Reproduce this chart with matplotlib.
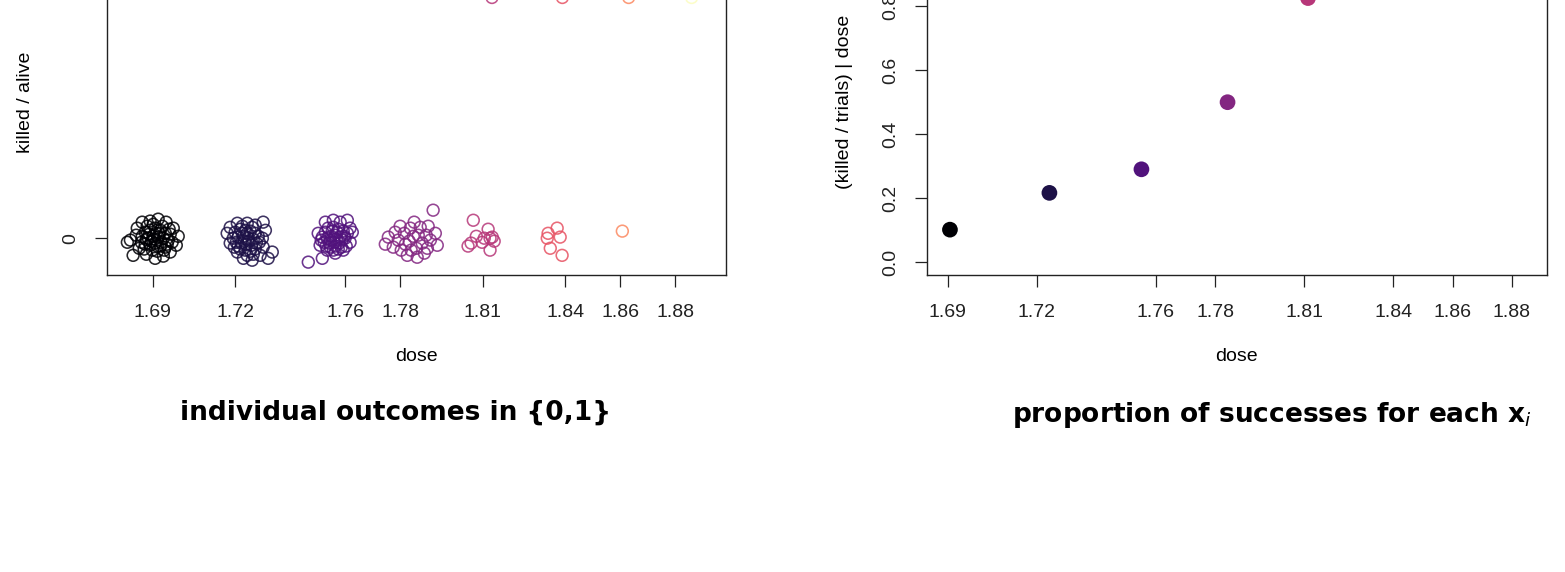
import numpy as np
import matplotlib
matplotlib.use("Agg")
import matplotlib.pyplot as plt

plt.rcParams["font.family"] = ["Liberation Sans", "DejaVu Sans"]

# beetle mortality data
dose = [1.6907, 1.7242, 1.7552, 1.7842, 1.8113, 1.8369, 1.8610, 1.8839]
n_trials = [59, 60, 62, 56, 63, 59, 62, 60]
n_killed = [6, 13, 18, 28, 52, 53, 61, 60]
dose_ticks = [1.69, 1.72, 1.76, 1.78, 1.81, 1.84, 1.86, 1.88]
dose_labels = ["1.69", "1.72", "1.76", "1.78", "1.81", "1.84", "1.86", "1.88"]
colors = ["#000004", "#1D1147", "#51127C", "#832681",
          "#B73779", "#E75263", "#FC8961", "#FCFDBF"]

# jitter for the "alive" (0) outcomes
# x in 1e-3 dose units, y in 1e-2 outcome units
jx0 = [
    [-8.9, -7.9, -6.4, -4.6, -1.7, 1.2, 4.1, 6.7, 8.5, 7.8, 5.6, 3.1, 0.1, -3.1, -5.7, -10.0,
     -3.5, -1.7, 0.1, 2.0, 3.8, -2.4, -0.6, 1.2, 3.1, 4.9, -3.5, -1.7, 0.1, 2.0, 3.8, -0.9,
     0.9, -4.6, 5.6, -2.8, 2.7, 0.5, -1.3, 2.3, -3.9, 4.5, -0.2, 1.6, -2.0, 3.4, -4.9, 6.3,
     0.9, -3.1, -0.6, 5.2, -6.8],
    [-7.2, -6.1, -3.5, 0.1, 3.0, 5.9, 6.7, 5.6, 5.9, 9.2, 7.7, 4.8, 1.9, -1.3, -3.5, -6.1,
     -4.3, -2.4, -0.6, 1.2, 3.0, -3.2, -1.3, 0.5, 2.3, -3.9, -2.1, -0.3, 1.6, 3.4, -2.4,
     -0.6, 1.2, 3.0, -5.0, 4.1, -1.7, 1.9, 0.1, -1.0, 0.8, -3.2, 2.3, 0.1, 4.5, -4.6, -1.7],
    [-8.7, -3.6, -5.1, -2.5, 0.4, 2.9, 5.5, 6.5, 7.3, 6.5, 4.0, 1.1, -1.8, -4.4, 5.1, 2.2,
     -3.6, -2.5, -1.5, 0.4, 2.2, 4.0, -1.8, -0.4, 1.1, 2.9, 4.7, -2.9, -1.1, 0.7, 2.5, 4.4,
     -0.7, 1.1, -2.2, 3.3, 0.0, 1.5, -0.7, -4.0, 5.5, 1.8, 3.6, 0.4],
    [-8.6, -6.1, -5.0, -6.8, -3.9, -2.4, -2.8, -0.6, 0.5, -1.0, 1.6, -1.7, 1.9, 4.5, 3.7,
     3.0, 5.9, 5.2, 8.5, 9.2, 6.7, 7.7, 2.3, -4.3, -0.3, -9.7, 5.6, 0.8],
    [-4.8, -6.7, -5.6, 0.6, -0.8, 1.3, 2.8, 1.3, -1.6, -3.7, 2.1],
    [-3.2, 0.1, -3.5, 1.2, -2.4, 1.9],
    [-0.3],
    [],
]
jy0 = [
    [-0.7, -6.3, 3.7, 5.9, 6.3, 7.0, 5.9, 3.7, 0.7, -2.6, -5.1, -6.6, -7.4, -5.9, -3.7, -1.5,
     2.2, 2.9, 3.7, 2.9, 1.8, 0.0, 0.7, 0.4, 0.0, -0.7, -2.2, -2.6, -1.8, -2.9, -3.3, -4.4,
     -4.8, 0.7, 1.5, 4.4, 4.4, 1.8, -1.1, -1.5, -4.0, -2.2, -0.4, 1.8, 1.5, -4.4, -1.5, -1.5,
     -2.9, -0.4, 5.1, 3.3, 1.1],
    [1.8, 4.0, 5.5, 5.5, 4.8, 5.9, 2.9, 0.0, -3.3, -5.1, -7.4, -6.3, -8.1, -7.4, -5.1, -1.8,
     2.2, 3.3, 2.9, 2.6, 1.8, 0.4, 0.7, 0.0, -0.4, -1.5, -1.8, -2.2, -2.6, -1.8, -4.0,
     -4.4, -4.8, -4.0, 0.0, 0.7, 4.4, 4.0, 1.8, -1.1, -1.1, -2.9, -5.9, -6.3, -1.5, -3.3, 1.8],
    [-8.8, -7.4, 1.8, 5.9, 6.6, 5.9, 6.6, 3.7, 2.2, -1.5, -4.4, -5.5, -4.4, -2.6, -2.9, -4.0,
     0.4, 2.2, 3.7, 4.0, 3.3, 2.6, 0.0, 0.7, 1.1, 0.4, 0.0, -1.5, -1.8, -1.5, -1.8, 0.7,
     -3.3, -2.9, -2.9, -3.3, 2.6, -0.4, -0.7, -0.7, 1.8, 2.2, -0.7, -4.4],
    [0.4, 2.2, -0.7, -3.3, -4.4, -2.2, 1.8, 3.7, 0.7, -1.1, -3.7, -6.3, -7.0, -5.5, -1.8,
     4.0, 4.4, 1.1, 1.8, -2.6, -0.7, 10.3, 1.1, 4.4, -4.4, -2.2, -3.7, 5.9],
    [6.6, -2.9, -1.8, 3.3, 0.0, 0.0, -1.1, -4.4, -1.5, 0.7, 0.4],
    [1.8, 3.7, 0.0, 0.4, -3.7, -6.3],
    [2.6],
    [],
]
# jitter for the "killed" (1) outcomes, shared by all doses
jx1 = [-4.2, 3.1, -1.5, 6.0, -7.3, 1.8, -2.9, 4.7, 0.4, -5.6,
       7.9, -3.8, 2.5, -0.9, 5.3, -6.4, 1.2, 8.4, -8.1, 3.6,
       -2.2, 0.7, 6.8, -4.9, 2.9, -1.1, 4.2, -7.0, 5.0, -3.3,
       2.0, 7.2, -5.2, 0.1, 3.9, -6.1, 1.5, -2.6, 8.8, -0.3,
       4.6, -8.6, 2.2, -4.4, 6.3, -1.8, 0.9, 5.7, -3.0, 7.6,
       -6.8, 3.3, -0.6, 1.1, -5.0, 4.0, -2.4, 6.6, -7.7, 2.7, -1.3]
jy1 = [3.2, -5.1, 6.4, -1.7, 0.8, -6.9, 4.5, 2.1, -3.6, 7.3,
       -0.4, 5.8, -7.6, 1.9, -2.8, 3.7, -4.9, 0.2, 6.1, -5.5,
       2.6, -1.2, 4.8, -6.3, 7.0, -3.1, 1.4, -7.9, 5.2, -0.7,
       -11.5, 3.9, -4.2, 6.7, -2.3, 0.5, -6.6, 4.1, -1.0, 2.8,
       -5.7, 7.6, -3.4, 1.6, 5.5, -7.2, 3.0, -0.2, -4.6, 6.0,
       1.1, -2.1, 4.4, -6.0, 0.9, 5.9, -3.9, 2.3, -7.4, -1.6, 3.5]

W, H = 1565, 572
fig = plt.figure(figsize=(W / 100, H / 100), dpi=100)
ax_h = 345.6 / H
ax1 = fig.add_axes([107 / W, 1 - 275 / H, 619 / W, ax_h])
ax2 = fig.add_axes([927 / W, 1 - 275 / H, 619.5 / W, ax_h])

fs = 14
# left: individual outcomes
for k in range(len(dose)):
    n0 = n_trials[k] - n_killed[k]
    n1 = n_killed[k]
    x0 = dose[k] + np.array(jx0[k][:n0]) * 1e-3
    y0 = 0 + np.array(jy0[k][:n0]) * 1e-2
    x1 = dose[k] + np.array(jx1[:n1]) * 1e-3
    y1 = 1 + np.array(jy1[:n1]) * 1e-2
    for xs, ys in ((x0, y0), (x1, y1)):
        ax1.scatter(xs, ys, s=72, facecolors="none", edgecolors=colors[k],
                    linewidths=1.15, alpha=0.85)
ax1.set_xlim(1.6733, 1.8984)
ax1.set_ylim(-0.1353, 1.1353)
ax1.set_yticks([0, 1])
ax1.set_yticklabels(["0", "1"])
ax1.set_ylabel("killed / alive", fontsize=fs)

# right: proportion killed per dose
prop = [k / n for k, n in zip(n_killed, n_trials)]
ax2.scatter(dose, prop, s=128, c=colors, edgecolors="none")
ax2.set_xlim(1.68297, 1.89163)
ax2.set_ylim(-0.04, 1.04)
ax2.set_yticks([0, 0.2, 0.4, 0.6, 0.8, 1.0])
ax2.set_yticklabels(["0.0", "0.2", "0.4", "0.6", "0.8", "1.0"])
ax2.set_ylabel("(killed / trials) | dose", fontsize=fs)

for ax in (ax1, ax2):
    ax.set_xticks(dose_ticks)
    ax.set_xticklabels(dose_labels)
    ax.set_xlabel("dose", fontsize=fs)
    ax.tick_params(axis="both", labelsize=fs, length=8.3, width=0.9,
                   color="#222222", labelcolor="#222222")
    ax.tick_params(axis="x", pad=12.5)
    ax.tick_params(axis="y", pad=11.5, labelrotation=90)
    for lab in ax.get_yticklabels():
        lab.set_va("center")
    for sp in ax.spines.values():
        sp.set_linewidth(1.0)
        sp.set_color("#222222")
    ax.xaxis.label.set_va("center")
    ax.xaxis.set_label_coords(0.5, -81 / 345.6)
    ax.yaxis.label.set_va("center")
    ax.yaxis.set_label_coords(-82 / 619, 0.5)

# handwritten notes under the panels
fig.text(395 / W, 1 - 413 / H, "individual outcomes in {0,1}", ha="center",
         va="center", fontsize=19, fontweight="bold", family=["DejaVu Sans"])
fig.text(1272 / W, 1 - 415 / H, "proportion of successes for each x$_i$",
         ha="center", va="center", fontsize=19, fontweight="bold",
         family=["DejaVu Sans"])

fig.savefig("out.png", dpi=100)
